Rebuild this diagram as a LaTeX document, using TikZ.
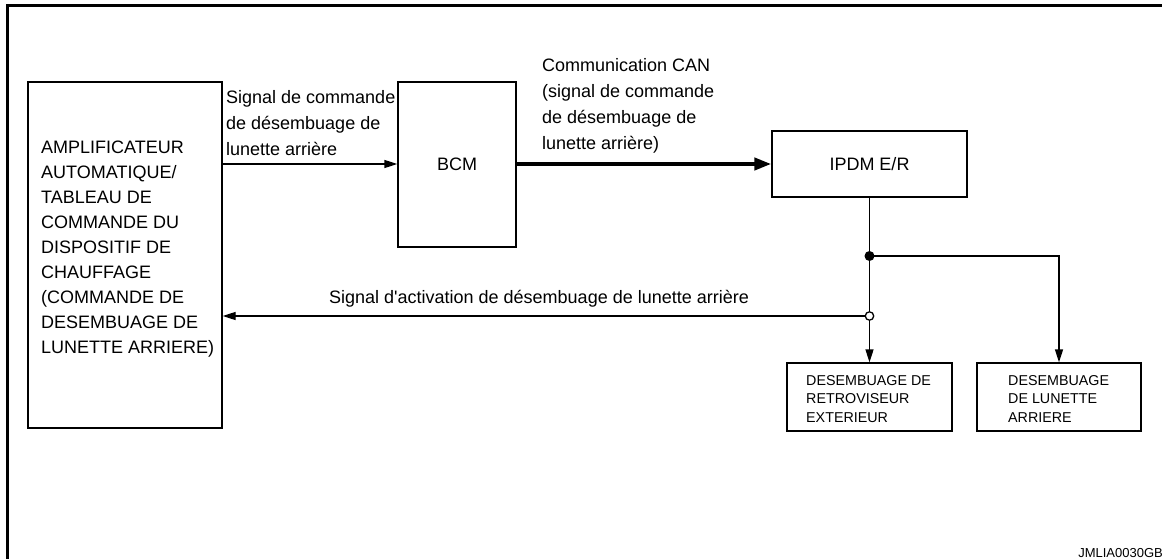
\documentclass[tikz,border=0pt]{standalone}
\usepackage{fontspec}
\setmainfont{Liberation Sans}[Ligatures=TeXOff]
\usetikzlibrary{arrows.meta}

\tikzset{
  box/.style={draw, line width=1.3pt, inner sep=0pt},
  txt/.style={inner sep=0pt, align=left, anchor=north west,
              font=\fontsize{18}{26}\selectfont},
  smalltxt/.style={inner sep=0pt, align=left, anchor=north west,
              font=\fontsize{14.3}{18.5}\selectfont},
  sig/.style={line width=1.3pt, -{Triangle[length=13pt,width=8pt]}},
  can/.style={line width=4pt, -{Triangle[length=17pt,width=12pt]}},
}

\begin{document}
\begin{tikzpicture}[x=1pt, y=-1pt]
  \useasboundingbox (0,0) rectangle (1162,559);
  \clip (0,0) rectangle (1162,559);

  % frame (only the top and left edges fall on the page)
  \draw[line width=3pt] (7,6) rectangle (1180,580);

  % blocks
  \node[box, minimum width=194pt, minimum height=346pt] (amp) at (125,255) {};
  \node[txt, font=\fontsize{18}{25}\selectfont] (amptxt) at (41,140.5)
    {AMPLIFICATEUR\\AUTOMATIQUE/\\TABLEAU DE\\COMMANDE DU\\DISPOSITIF DE\\CHAUFFAGE\\(COMMANDE DE\\DESEMBUAGE DE\\LUNETTE ARRIERE)};

  \node[box, minimum width=118pt, minimum height=165pt,
        font=\fontsize{18}{22}\selectfont] (bcm) at (457,164.5) {BCM};

  \node[box, minimum width=195pt, minimum height=66pt,
        font=\fontsize{18}{22}\selectfont] (ipdm) at (869.5,164) {IPDM E/R};

  \node[box, minimum width=165pt, minimum height=68pt] (retro) at (869.5,397) {};
  \node[smalltxt] (retrotxt) at (806,375)
    {DESEMBUAGE DE\\RETROVISEUR\\EXTERIEUR};

  \node[box, minimum width=164pt, minimum height=68pt] (lun) at (1059,397) {};
  \node[smalltxt] (luntxt) at (1008,375)
    {DESEMBUAGE\\DE LUNETTE\\ARRIERE};

  % junctions on the IPDM output line
  \coordinate (j1) at (869.5,256);
  \coordinate (j2) at (869.5,316);

  % connectors
  \draw[sig] (amp.east |- 0,164) -- (bcm.west |- 0,164);
  \draw[can] (bcm.east |- 0,164) -- (ipdm.west);
  \draw[sig] (ipdm.south) -- (retro.north);
  \draw[sig] (j1) -| (lun.north);
  \draw[sig] (j2) -- (amp.east |- j2);
  \fill (j1) circle (5pt);
  \draw[line width=1.3pt, fill=white] (j2) circle (4.2pt);

  % signal labels
  \node[txt] (lbl1) at (226,90.5)
    {Signal de commande\\de d\'esembuage de\\lunette arri\`ere};
  \node[txt] (lbl2) at (542,58)
    {Communication CAN\\(signal de commande\\de d\'esembuage de\\lunette arri\`ere)};
  \node[inner sep=0pt, anchor=base west, font=\fontsize{18}{26}\selectfont]
    (lbl3) at (329,303.5)
    {Signal d'activation de d\'esembuage de lunette arri\`ere};

  % drawing reference
  \node[inner sep=0pt, anchor=base east, font=\fontsize{13}{15}\selectfont]
    (ref) at (1163,557) {JMLIA0030GB};
\end{tikzpicture}
\end{document}
